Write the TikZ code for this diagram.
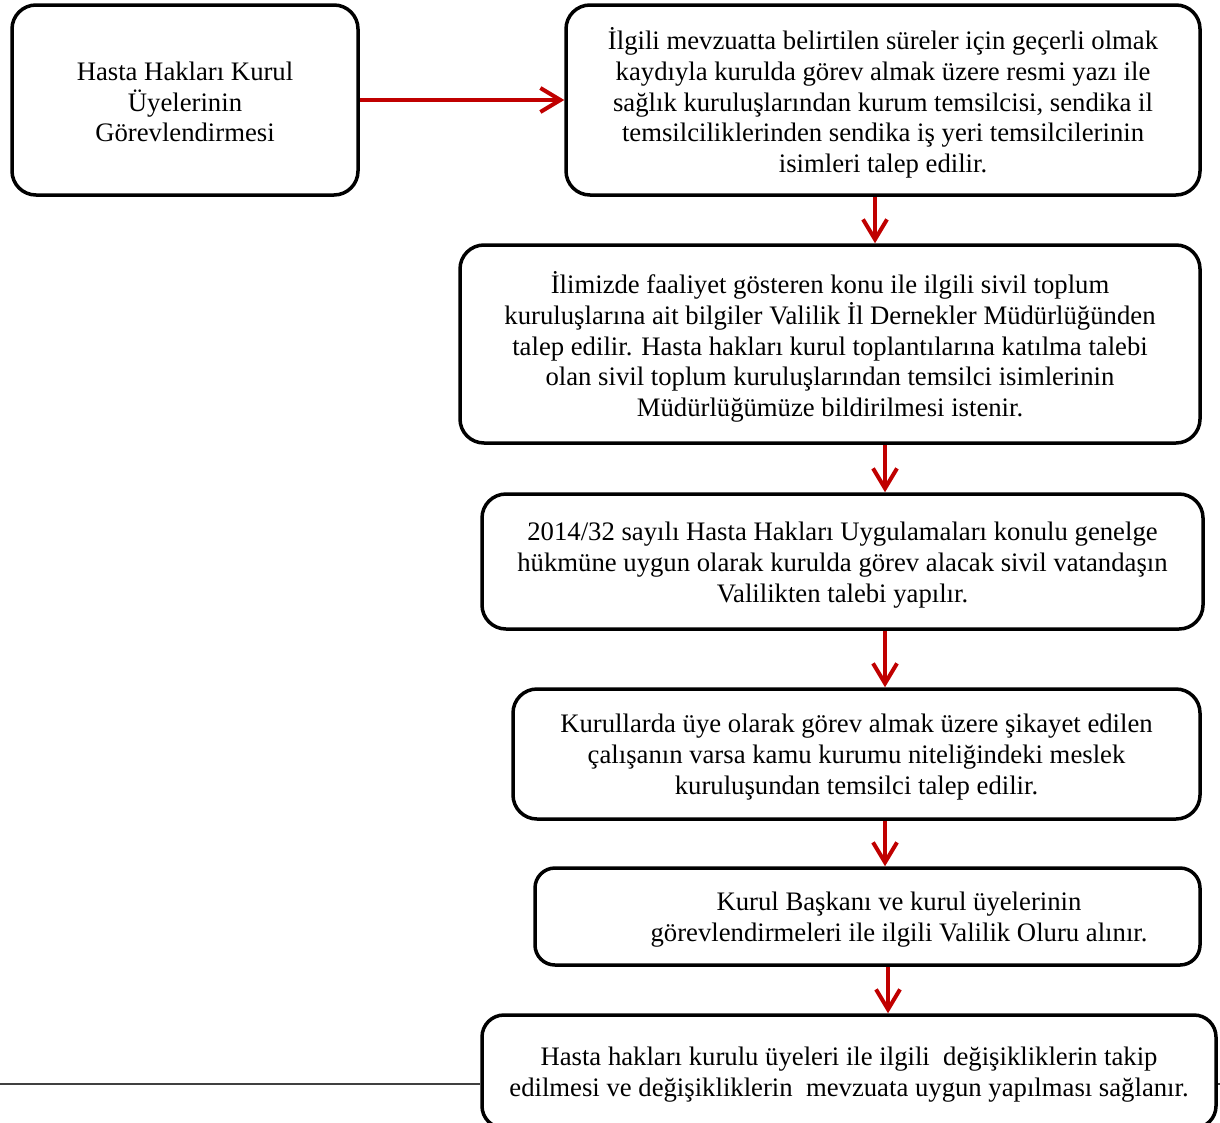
\documentclass[tikz,border=0pt]{standalone}
\usepackage{fontspec}
\setmainfont{Liberation Serif}
\usetikzlibrary{arrows.meta}
\definecolor{arrred}{HTML}{C00000}
\definecolor{rulegray}{HTML}{404040}
\tikzset{
  box/.style={draw=black, line width=3.5pt, rounded corners=24pt, inner sep=0pt},
  txt/.style={align=center, inner sep=0pt, font=\fontsize{26.7}{30.7}\selectfont},
  arr/.style={draw=arrred, line width=4pt, -{Straight Barb[length=20pt,width=24pt,line width=4pt]}},
  hrule/.style={draw=rulegray, line width=1.3pt}
}
\begin{document}
\begin{tikzpicture}[x=1pt,y=-1pt]
\useasboundingbox (0,0) rectangle (1220,1122);
\node[box, minimum width=346pt, minimum height=190pt] (b1) at (185,100) {};
\node[box, minimum width=634pt, minimum height=190pt] (b2) at (883,100) {};
\node[box, minimum width=740pt, minimum height=198pt] (b3) at (830,344) {};
\node[box, minimum width=721pt, minimum height=135pt] (b4) at (842.5,561.5) {};
\node[box, minimum width=687pt, minimum height=130pt] (b5) at (856.5,754) {};
\node[box, rounded corners=20pt, minimum width=665pt, minimum height=97pt] (b6) at (867.5,916.5) {};
\node[box, rounded corners=22pt, minimum width=734pt, minimum height=113pt] (b7) at (849,1071.5) {};

\node[txt] (b1t) at ([yshift=-2pt]b1.center)
  {Hasta Hakları Kurul\\Üyelerinin\\Görevlendirmesi};
\node[txt] (b2t) at ([yshift=-3pt]b2.center)
  {İlgili mevzuatta belirtilen süreler için geçerli olmak\\kaydıyla kurulda görev almak üzere resmi yazı ile\\sağlık kuruluşlarından kurum temsilcisi, sendika il\\temsilciliklerinden sendika iş yeri temsilcilerinin\\isimleri talep edilir.};
\node[txt] (b3t) at ([yshift=-3pt]b3.center)
  {İlimizde faaliyet gösteren konu ile ilgili sivil toplum\\kuruluşlarına ait bilgiler Valilik İl Dernekler Müdürlüğünden\\talep edilir. Hasta hakları kurul toplantılarına katılma talebi\\olan sivil toplum kuruluşlarından temsilci isimlerinin\\Müdürlüğümüze bildirilmesi istenir.};
\node[txt] (b4t) at ([yshift=-3.5pt]b4.center)
  {2014/32 sayılı Hasta Hakları Uygulamaları konulu genelge\\hükmüne uygun olarak kurulda görev alacak sivil vatandaşın\\Valilikten talebi yapılır.};
\node[txt] (b5t) at ([yshift=-3pt]b5.center)
  {Kurullarda üye olarak görev almak üzere şikayet edilen\\çalışanın varsa kamu kurumu niteliğindeki meslek\\kuruluşundan temsilci talep edilir.};
\node[txt] (b6t) at (899,919.5)
  {Kurul Başkanı ve kurul üyelerinin\\görevlendirmeleri ile ilgili Valilik Oluru alınır.};
\node[txt] (b7t) at ([yshift=-3pt]b7.center)
  {Hasta hakları kurulu üyeleri ile ilgili\ \ değişikliklerin takip\\edilmesi ve değişikliklerin\ \ mevzuata uygun yapılması sağlanır.};

\coordinate (x2) at (875,0);
\coordinate (x3) at (885,0);
\coordinate (x6) at (888,0);
\coordinate (hl) at (0,1084);
\coordinate (hr) at (1220,1084);

\draw[arr] (b1.east) -- (b2.west);
\draw[arr] (b2.south -| x2) -- (b3.north -| x2);
\draw[arr] (b3.south -| x3) -- (b4.north -| x3);
\draw[arr] (b4.south -| x3) -- (b5.north -| x3);
\draw[arr] (b5.south -| x3) -- (b6.north -| x3);
\draw[arr] (b6.south -| x6) -- (b7.north -| x6);

\draw[hrule] (hl) -- (hl -| b7.west);
\draw[hrule] (hr -| b7.east) -- (hr);
\end{tikzpicture}
\end{document}
